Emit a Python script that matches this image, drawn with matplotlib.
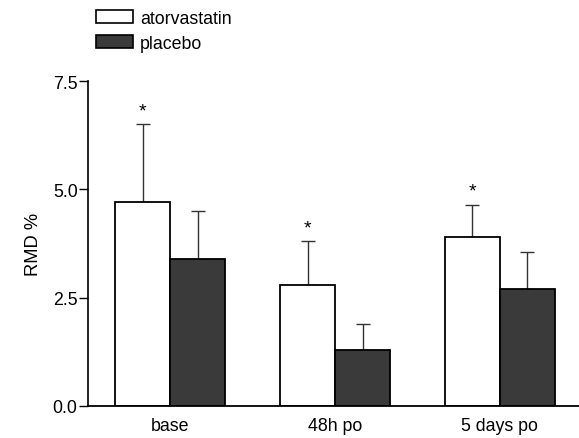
import matplotlib.pyplot as plt
import numpy as np
from matplotlib.patches import Patch

plt.rcParams['font.family'] = ['Liberation Sans', 'DejaVu Sans']

# data
groups = ["base", "48h po", "5 days po"]
atorva = [4.7, 2.8, 3.9]
atorva_err = [1.8, 1.0, 0.75]
placebo = [3.4, 1.3, 2.7]
placebo_err = [1.1, 0.6, 0.85]
signif = [True, True, True]

fig = plt.figure(figsize=(5.79, 4.39), dpi=100)
ax = fig.add_axes([0.152, 0.073, 0.848, 0.740])

x = np.arange(len(groups))
w = 1 / 3
dark = "#3a3a3a"
fs = 12.8

ax.bar(x - w / 2, atorva, w, color="white", edgecolor="black", linewidth=1.3, zorder=2)
ax.bar(x + w / 2, placebo, w, color=dark, edgecolor="black", linewidth=1.3, zorder=2)
ax.errorbar(x - w / 2, atorva, yerr=[np.zeros(3), atorva_err], fmt="none",
            ecolor="#333333", elinewidth=1, capsize=4.8, capthick=1, zorder=1)
ax.errorbar(x + w / 2, placebo, yerr=[np.zeros(3), placebo_err], fmt="none",
            ecolor="#333333", elinewidth=1, capsize=4.8, capthick=1, zorder=1)

for i, s in enumerate(signif):
    if s:
        ax.text(x[i] - w / 2, atorva[i] + atorva_err[i] + 0.32, "*",
                ha="center", va="center", fontsize=14)

ax.set_xlim(-0.5, 2.48)
ax.set_ylim(0, 7.5)
ax.set_yticks([0, 2.5, 5.0, 7.5])
ax.set_yticklabels(["0.0", "2.5", "5.0", "7.5"], fontsize=fs)
ax.set_xticks(x)
ax.set_xticklabels(groups, fontsize=fs)
ax.tick_params(axis="x", length=0, pad=8)
ax.tick_params(axis="y", length=6.5, width=1, pad=1)
ax.spines["top"].set_visible(False)
ax.spines["right"].set_visible(False)
ax.spines["left"].set_linewidth(1.2)
ax.spines["bottom"].set_linewidth(1.3)
ax.set_ylabel("RMD %", fontsize=13.2, labelpad=8)

handles = [Patch(facecolor="white", edgecolor="black", linewidth=1.2),
           Patch(facecolor=dark, edgecolor="black", linewidth=1.2)]
fig.legend(handles, ["atorvastatin", "placebo"], loc="upper left",
           bbox_to_anchor=(0.153, 0.992), frameon=False, fontsize=fs,
           handlelength=2.1, handleheight=0.75, labelspacing=0.45,
           handletextpad=0.4, borderaxespad=0)

fig.savefig("out.png", dpi=100)
